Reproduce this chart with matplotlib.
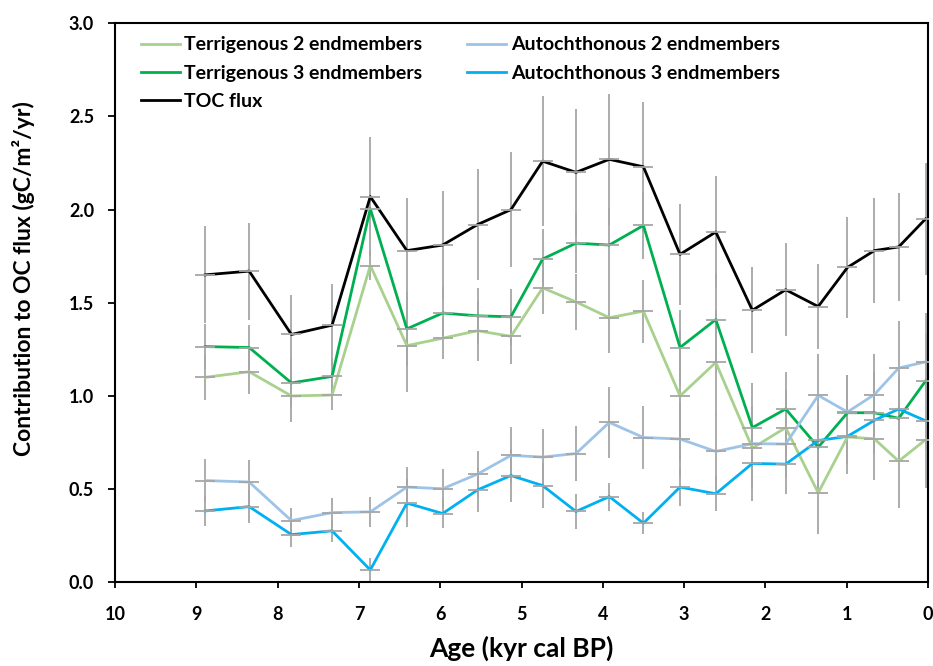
import matplotlib
matplotlib.use('Agg')
import matplotlib.pyplot as plt
import numpy as np

plt.rcParams['font.family'] = ['Lato', 'DejaVu Sans']
plt.rcParams['font.weight'] = 'bold'

# ages (kyr cal BP)
age = [8.89, 8.35, 7.83, 7.33, 6.86, 6.41, 5.97, 5.54, 5.13, 4.74, 4.33,
       3.92, 3.50, 3.05, 2.61, 2.16, 1.75, 1.35, 0.99, 0.66, 0.36, 0.03]

toc = [1.65, 1.67, 1.33, 1.38, 2.07, 1.78, 1.81, 1.92, 2.00, 2.26, 2.20,
       2.27, 2.23, 1.76, 1.88, 1.46, 1.57, 1.48, 1.69, 1.78, 1.80, 1.95]
toc_err = [0.26, 0.26, 0.21, 0.22, 0.32, 0.28, 0.29, 0.30, 0.31, 0.35, 0.34,
           0.35, 0.35, 0.27, 0.30, 0.23, 0.25, 0.23, 0.27, 0.28, 0.29, 0.30]

terr2 = [1.10, 1.13, 1.00, 1.005, 1.70, 1.27, 1.31, 1.35, 1.32, 1.58, 1.505,
         1.42, 1.455, 1.00, 1.18, 0.72, 0.83, 0.48, 0.78, 0.77, 0.65, 0.765]
terr2_err = [0.12, 0.12, 0.14, 0.08, 0.08, 0.25, 0.11, 0.16, 0.15, 0.14, 0.15,
             0.19, 0.17, 0.35, 0.28, 0.22, 0.20, 0.22, 0.20, 0.22, 0.25, 0.26]

terr3 = [1.265, 1.26, 1.07, 1.105, 2.005, 1.36, 1.445, 1.43, 1.425, 1.735, 1.82,
         1.81, 1.915, 1.26, 1.41, 0.83, 0.93, 0.725, 0.91, 0.91, 0.88, 1.08]
terr3_err = [0.12, 0.12, 0.13, 0.10, 0.06, 0.20, 0.14, 0.15, 0.15, 0.16, 0.16,
             0.20, 0.18, 0.20, 0.25, 0.24, 0.20, 0.22, 0.20, 0.22, 0.22, 0.25]

auto2 = [0.546, 0.538, 0.331, 0.374, 0.378, 0.511, 0.502, 0.581, 0.681, 0.672, 0.691,
         0.858, 0.777, 0.769, 0.702, 0.744, 0.742, 1.003, 0.914, 1.007, 1.15, 1.183]
auto2_err = [0.115, 0.116, 0.07, 0.08, 0.08, 0.11, 0.105, 0.125, 0.15, 0.15, 0.15,
             0.19, 0.17, 0.20, 0.20, 0.20, 0.18, 0.22, 0.20, 0.22, 0.25, 0.26]

auto3 = [0.383, 0.406, 0.256, 0.276, 0.066, 0.425, 0.369, 0.496, 0.573, 0.519, 0.38,
         0.46, 0.317, 0.511, 0.475, 0.638, 0.634, 0.761, 0.783, 0.869, 0.93, 0.867]
auto3_err = [0.08, 0.09, 0.065, 0.06, 0.066, 0.13, 0.08, 0.12, 0.14, 0.12, 0.095,
             0.075, 0.06, 0.10, 0.095, 0.20, 0.16, 0.15, 0.15, 0.15, 0.15, 0.15]

series = [
    ('Terrigenous 2 endmembers', terr2, terr2_err, '#A9D18E'),
    ('Terrigenous 3 endmembers', terr3, terr3_err, '#00B050'),
    ('TOC flux', toc, toc_err, '#000000'),
    ('Autochthonous 2 endmembers', auto2, auto2_err, '#9DC3E6'),
    ('Autochthonous 3 endmembers', auto3, auto3_err, '#00B0F0'),
]

fig = plt.figure(figsize=(9.33, 6.66), dpi=100)
ax = fig.add_axes([0.1233, 0.1257, 0.8713, 0.8393])

gray = '#A6A6A6'
for name, y, err, col in series:
    ax.errorbar(age, y, yerr=err, fmt='none', ecolor=gray, elinewidth=1.3,
                capsize=0, zorder=1)
for name, y, err, col in series:
    ax.plot(age, y, color=col, lw=2.0, label=name, zorder=3)
    ax.plot(age, y, ls='none', marker='_', ms=14, mew=1.3, color=gray, zorder=4)

ax.set_xlim(10, 0)
ax.set_ylim(0, 3.0)
ax.set_xticks(np.arange(0, 11, 1))
ax.set_yticks(np.arange(0, 3.01, 0.5))
ax.set_yticklabels(['%.1f' % v for v in np.arange(0, 3.01, 0.5)])
ax.tick_params(axis='both', direction='out', labelsize=13, width=1.3)
ax.tick_params(axis='y', length=5, pad=10)
ax.tick_params(axis='x', length=4, pad=13)
for lab in ax.get_xticklabels() + ax.get_yticklabels():
    lab.set_fontweight('bold')
for s in ax.spines.values():
    s.set_linewidth(1.5)

ax.set_xlabel('Age (kyr cal BP)', fontsize=19, fontweight='bold')
ax.set_ylabel('Contribution to OC flux (gC/m²/yr)', fontsize=16.5, fontweight='bold')
ax.xaxis.set_label_coords(0.5, -0.096)
ax.yaxis.set_label_coords(-0.098, 0.544)

ax.legend(loc='upper left', bbox_to_anchor=(0.01, 1.008), ncol=2, frameon=False,
          prop={'size': 14, 'weight': 'bold'}, handlelength=2.0,
          handletextpad=0.25, columnspacing=2.3, labelspacing=0.58)

fig.savefig('out.png', dpi=100)
